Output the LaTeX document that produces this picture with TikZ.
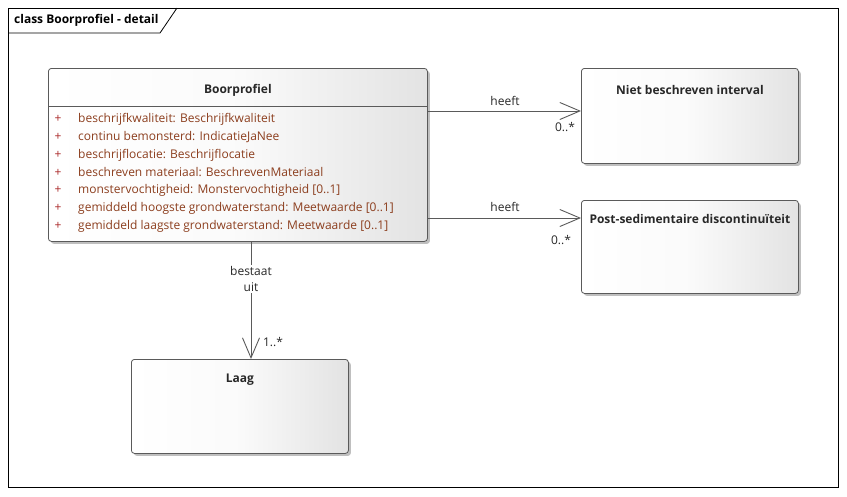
\documentclass[tikz,border=0pt]{standalone}
\usepackage{fontspec}
\setmainfont{Open Sans}
\usetikzlibrary{arrows.meta,shadows}
\definecolor{attr}{RGB}{140,62,30}
\definecolor{plusc}{RGB}{170,40,40}
\definecolor{edge}{RGB}{90,90,90}
\definecolor{lbl}{RGB}{40,40,40}
\begin{document}
\begin{tikzpicture}[x=1pt,y=-1pt,
  font=\fontsize{12}{14}\selectfont,
  classbox/.style={draw=edge, line width=0.8pt, rounded corners=3pt, left color=white, right color=black!11, middle color=white!70!black!6,
    drop shadow={shadow xshift=2.5pt,shadow yshift=-2.5pt,fill=black!25,opacity=1}},
  ttl/.style={font=\fontsize{12}{14}\selectfont\bfseries, text=lbl},
  att/.style={anchor=west, text=attr, inner sep=0pt, text height=8.5pt, text depth=2.5pt},
  pl/.style={anchor=center, text=plusc, inner sep=0pt, text height=8.5pt, text depth=2.5pt},
  conn/.style={draw=edge, line width=0.9pt},
  tip/.style={-{Straight Barb[length=20pt,width=17pt,line width=0.9pt]}},
  lab/.style={text=lbl, inner sep=1pt}]
\useasboundingbox (0,0) rectangle (847,496);
% frame
\draw[line width=0.8pt] (8,8) rectangle (838,487);
\draw[line width=0.8pt] (8,33) -- (160,33) -- (177,8);
\node[anchor=west, font=\fontsize{12}{14}\selectfont\bfseries, inner sep=0pt] (frametitle) at (14,20) {class Boorprofiel - detail};
% boxes
\node[classbox, minimum width=379pt, minimum height=173pt, anchor=north west] (bp) at (48,68) {};
\draw[edge, line width=0.8pt] (bp.west |- 0,106) -- (bp.east |- 0,106);
\node[ttl] (bpt) at (bp.center |- 0,90) {Boorprofiel};
\foreach \y/\t in {119/{beschrijfkwaliteit: Beschrijfkwaliteit},
                   137/{continu bemonsterd: IndicatieJaNee},
                   155/{beschrijflocatie: Beschrijflocatie},
                   173/{beschreven materiaal: BeschrevenMateriaal},
                   190/{monstervochtigheid: Monstervochtigheid [0..1]},
                   208/{gemiddeld hoogste grondwaterstand: Meetwaarde [0..1]},
                   226/{gemiddeld laagste grondwaterstand: Meetwaarde [0..1]}}{
  \node[pl] at (58,\y) {+};
  \node[att] at (78,\y) {\t};
}
\node[classbox, minimum width=217pt, minimum height=95pt, anchor=north west] (nbi) at (581,68) {};
\node[ttl] (nbit) at (nbi.center |- 0,90) {Niet beschreven interval};
\node[classbox, minimum width=217pt, minimum height=93pt, anchor=north west] (psd) at (581,200) {};
\node[ttl] (psdt) at (psd.center |- 0,219) {Post-sedimentaire discontinuïteit};
\node[classbox, minimum width=217pt, minimum height=94pt, anchor=north west] (laag) at (131,359) {};
\node[ttl] (laagt) at (laag.center |- 0,380) {Laag};
% connectors
\coordinate (a1) at (bp.east |- 0,111);
\coordinate (b1) at (nbi.west |- 0,111);
\draw[conn,tip] (a1) -- (b1);
\node[lab] at (505,101) {heeft};
\node[lab] at (565,127) {0..*};
\coordinate (a2) at (bp.east |- 0,218);
\coordinate (b2) at (psd.west |- 0,218);
\draw[conn,tip] (a2) -- (b2);
\node[lab] at (505,207) {heeft};
\node[lab] at (561,240) {0..*};
\coordinate (a3) at (251,241);
\coordinate (b3) at (251,359);
\draw[conn,tip] (a3) -- (b3);
\node[lab, fill=white, align=center, font=\fontsize{12}{16}\selectfont] at (251,279) {bestaat\\uit};
\node[lab] at (273,342) {1..*};
\end{tikzpicture}
\end{document}
